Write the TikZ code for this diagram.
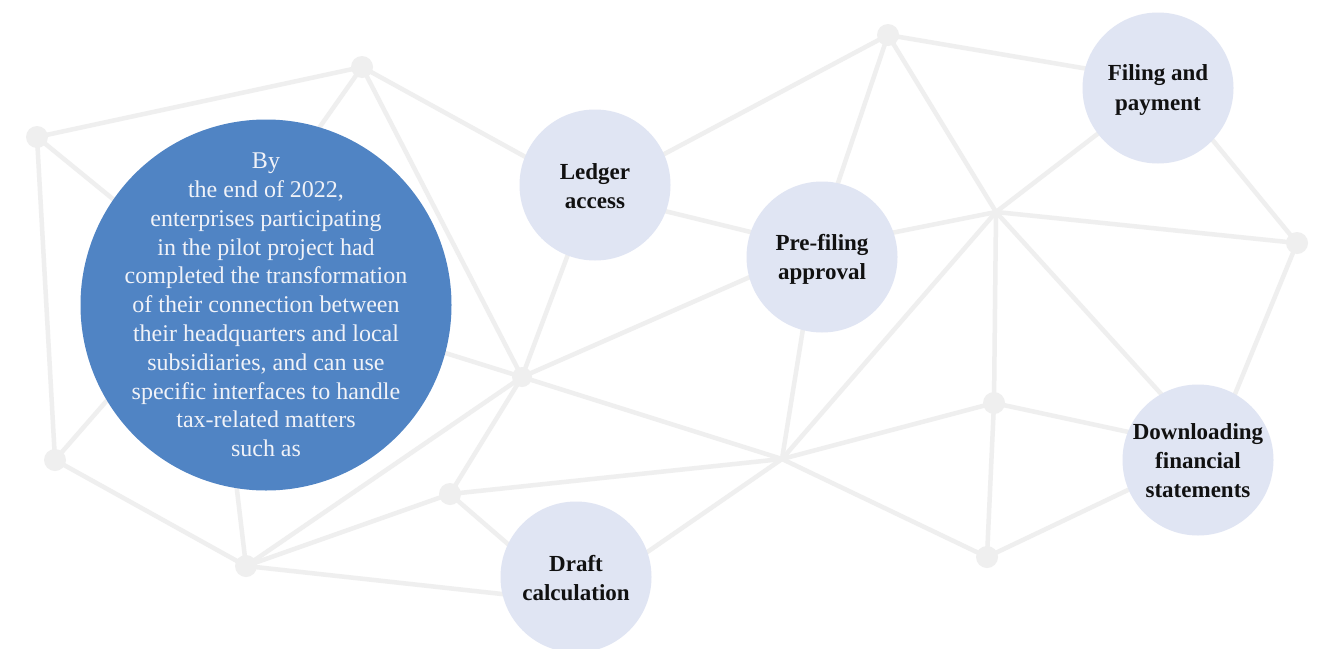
\documentclass[tikz,border=0pt]{standalone}
\usepackage{fontspec}
\setmainfont{Liberation Serif}
\usetikzlibrary{backgrounds}
\definecolor{netgray}{HTML}{EFEFEF}
\definecolor{hubblue}{HTML}{5084C4}
\definecolor{stagefill}{HTML}{E0E5F3}
\definecolor{hubtext}{HTML}{F0F2F8}
\definecolor{stagetext}{HTML}{111111}
\begin{document}
\begin{tikzpicture}[x=1pt,y=-1pt,
  link/.style={draw=netgray, line width=4.5pt},
  joint/.style={circle, fill=netgray, inner sep=0pt, minimum size=22pt},
  hub/.style={circle, fill=hubblue, minimum size=371pt, inner sep=0pt},
  hubcaption/.style={inner sep=0pt, text=hubtext, align=center,
    font=\fontsize{24}{28.8}\selectfont},
  stage/.style={circle, fill=stagefill, minimum size=151pt, inner sep=0pt},
  stagecaption/.style={inner sep=0pt, align=center, text=stagetext,
    font=\fontsize{23}{29}\selectfont\bfseries}]
\useasboundingbox (0,0) rectangle (1319,648);

% visible network joints
\node[joint] (a) at (37,137) {};
\node[joint] (b) at (362,67) {};
\node[joint] (c) at (55,460) {};
\node[joint] (d) at (246,566) {};
\node[joint, minimum size=20pt] (e) at (522,377) {};
\node[joint] (f) at (450,494) {};
\node[joint] (g) at (888,35) {};
\node[joint] (i) at (1297,243) {};
\node[joint] (j) at (994,403) {};
\node[joint] (k) at (987,557) {};
% crossings without a dot
\coordinate (h) at (996,212);
\coordinate (l) at (782,459);
% joints covered by the circles
\coordinate (hubj) at (212,280);
\coordinate (ledj) at (591,193);
\coordinate (prej) at (816,248);
\coordinate (filj) at (1165,82);
\coordinate (dowj) at (1212,450);
\coordinate (draj) at (575,602);

% topic circles
\node[hub] (hub) at (266,305) {};
\node[hubcaption] (hubtxt) at (hub.center)
  {By\\the end of 2022,\\enterprises participating\\in the pilot project had\\completed the transformation\\of their connection between\\their headquarters and local\\subsidiaries, and can use\\specific interfaces to handle\\tax-related matters\\such as};
\node[stage] (ledger) at (595,185) {};
\node[stagecaption] (ledgertxt) at (595,186) {Ledger\\access};
\node[stage] (prefiling) at (822,257) {};
\node[stagecaption] (prefilingtxt) at (822,259) {Pre-filing\\approval};
\node[stage] (filing) at (1158,88) {};
\node[stagecaption] (filingtxt) at (1158,90) {Filing and\\payment};
\node[stage] (download) at (1198,460) {};
\node[stagecaption] (downloadtxt) at (1198,461) {Downloading\\financial\\statements};
\node[stage] (draft) at (576,577) {};
\node[stagecaption] (drafttxt) at (576,578) {Draft\\calculation};

% network lines behind everything
\begin{pgfonlayer}{background}
\fill[white] (0,0) rectangle (1319,648);
\foreach \p/\q in {a/b, a/c, a/hubj, b/hubj, c/hubj, d/hubj, e/hubj,
  b/e, b/ledj, c/d, d/f, d/e, d/draj, e/ledj, e/prej, e/f, e/l, f/l,
  f/draj, draj/l, ledj/g, ledj/prej, prej/g, prej/h, prej/l, g/h, g/filj,
  h/filj, h/i, h/j, h/l, h/dowj, filj/i, i/dowj, l/j, l/k, j/k, j/dowj,
  k/dowj}
  \draw[link] (\p.center) -- (\q.center);
\end{pgfonlayer}
\end{tikzpicture}
\end{document}
